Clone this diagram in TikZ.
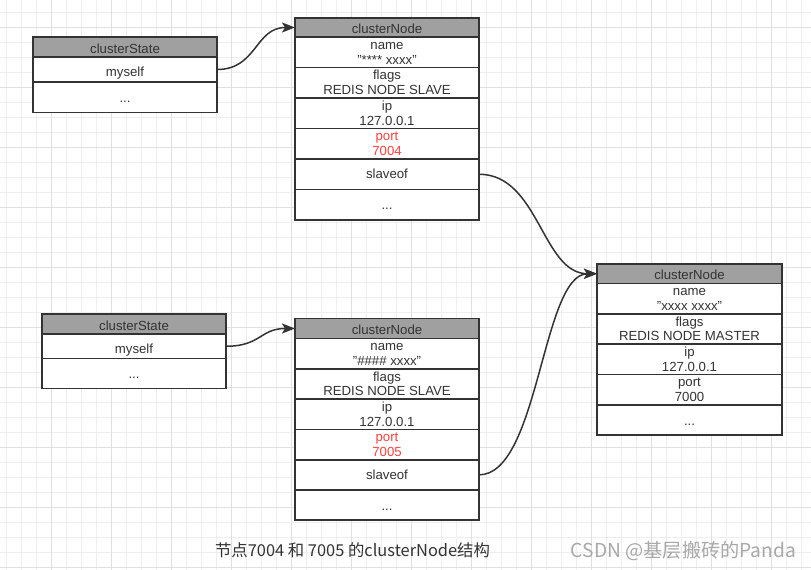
\documentclass[tikz,border=0pt]{standalone}
\usepackage{fontspec}
\setmainfont{Liberation Sans}
\newfontfamily\cjkfont{Noto Sans CJK SC}
\usetikzlibrary{arrows.meta}
\definecolor{txt}{HTML}{333333}
\definecolor{hdr}{HTML}{A0A0A0}
\definecolor{edgec}{HTML}{333333}
\definecolor{portred}{HTML}{FF4040}
\definecolor{gridminor}{HTML}{EEEEEE}
\definecolor{gridmajor}{HTML}{E0E0E0}
\definecolor{wm}{HTML}{A8A8A8}
% one-line label: cell name, baseline offset below centre, text, extra style
\newcommand\cellone[4]{\node[lbl,#4] (#1t) at ([yshift=-#2pt]#1.center) {#3};}
% two-line label: cell name, first line, second line, extra style
\newcommand\celltwo[4]{%
  \node[lbl,#4] (#1t1) at ([yshift=2.8pt]#1.center) {#2};
  \node[lbl,#4] (#1t2) at ([yshift=-12pt]#1.center) {#3};}
\begin{document}
\begin{tikzpicture}[x=1pt,y=-1pt,
  cell/.style={draw=edgec, line width=1.7pt, fill=white, anchor=north west,
    inner sep=0pt, outer sep=0pt},
  hdrcell/.style={cell, fill=hdr},
  lbl/.style={anchor=base, inner sep=0pt, text=txt, font=\fontsize{13.2}{15}\selectfont},
  conn/.style={draw=edgec, line width=1.5pt, -{Stealth[length=13pt,width=10pt,inset=3pt]}},
  red/.style={text=portred}
]
\fill[white] (0,0) rectangle (811,570);
\useasboundingbox (0,0) rectangle (811,570);
% grid
\foreach \x in {6.7,21.7,...,811} \draw[gridminor, line width=0.8pt] (\x,0) -- (\x,570);
\foreach \y in {12.3,27.3,...,570} \draw[gridminor, line width=0.8pt] (0,\y) -- (811,\y);
\foreach \x in {51.7,111.7,...,811} \draw[gridmajor, line width=0.8pt] (\x,0) -- (\x,570);
\foreach \y in {27.3,87.3,...,570} \draw[gridmajor, line width=0.8pt] (0,\y) -- (811,\y);

% ---- top clusterState
\node[hdrcell, minimum width=184pt, minimum height=20pt] (s1h) at (33,37) {};
\node[cell, minimum width=184pt, minimum height=25pt] (s1m) at (33,57) {};
\node[cell, minimum width=184pt, minimum height=30.5pt] (s1d) at (33,82) {};
\cellone{s1h}{6.2}{clusterState}{}
\cellone{s1m}{7.2}{myself}{}
\cellone{s1d}{5}{...}{}

% ---- lower clusterState
\node[hdrcell, minimum width=184pt, minimum height=20pt] (s2h) at (42,314) {};
\node[cell, minimum width=184pt, minimum height=24.5pt] (s2m) at (42,334) {};
\node[cell, minimum width=184pt, minimum height=30pt] (s2d) at (42,358.5) {};
\cellone{s2h}{6.2}{clusterState}{}
\cellone{s2m}{7.2}{myself}{}
\cellone{s2d}{5}{...}{}

% ---- top clusterNode (7004)
\node[hdrcell, minimum width=184pt, minimum height=19pt] (n1h) at (295,18) {};
\node[cell, minimum width=184pt, minimum height=30.5pt] (n1a) at (295,37) {};
\node[cell, minimum width=184pt, minimum height=30.5pt] (n1b) at (295,67.5) {};
\node[cell, minimum width=184pt, minimum height=30.5pt] (n1c) at (295,98) {};
\node[cell, minimum width=184pt, minimum height=30.5pt] (n1d) at (295,128.5) {};
\node[cell, minimum width=184pt, minimum height=30.5pt] (n1e) at (295,159) {};
\node[cell, minimum width=184pt, minimum height=30.5pt] (n1f) at (295,189.5) {};
\cellone{n1h}{6}{clusterNode}{}
\celltwo{n1a}{name}{"**** xxxx"}{}
\celltwo{n1b}{flags}{REDIS NODE SLAVE}{}
\celltwo{n1c}{ip}{127.0.0.1}{}
\celltwo{n1d}{port}{7004}{red}
\cellone{n1e}{4.6}{slaveof}{}
\cellone{n1f}{5}{...}{}

% ---- lower clusterNode (7005)
\node[hdrcell, minimum width=184pt, minimum height=20pt] (n2h) at (295,318.5) {};
\node[cell, minimum width=184pt, minimum height=30.3pt] (n2a) at (295,338.5) {};
\node[cell, minimum width=184pt, minimum height=30.3pt] (n2b) at (295,368.8) {};
\node[cell, minimum width=184pt, minimum height=30.3pt] (n2c) at (295,399.1) {};
\node[cell, minimum width=184pt, minimum height=30.3pt] (n2d) at (295,429.4) {};
\node[cell, minimum width=184pt, minimum height=30.3pt] (n2e) at (295,459.7) {};
\node[cell, minimum width=184pt, minimum height=30.3pt] (n2f) at (295,490) {};
\cellone{n2h}{6.2}{clusterNode}{}
\celltwo{n2a}{name}{"\#\#\#\# xxxx"}{}
\celltwo{n2b}{flags}{REDIS NODE SLAVE}{}
\celltwo{n2c}{ip}{127.0.0.1}{}
\celltwo{n2d}{port}{7005}{red}
\cellone{n2e}{4.6}{slaveof}{}
\cellone{n2f}{5}{...}{}

% ---- master clusterNode (7000)
\node[hdrcell, minimum width=185pt, minimum height=19.5pt] (mh) at (597,264) {};
\node[cell, minimum width=185pt, minimum height=30.3pt] (ma) at (597,283.5) {};
\node[cell, minimum width=185pt, minimum height=30.3pt] (mb) at (597,313.8) {};
\node[cell, minimum width=185pt, minimum height=30.3pt] (mc) at (597,344.1) {};
\node[cell, minimum width=185pt, minimum height=30.3pt] (md) at (597,374.4) {};
\node[cell, minimum width=185pt, minimum height=30.6pt] (me) at (597,404.7) {};
\cellone{mh}{6}{clusterNode}{}
\celltwo{ma}{name}{"xxxx xxxx"}{}
\celltwo{mb}{flags}{REDIS NODE MASTER}{}
\celltwo{mc}{ip}{127.0.0.1}{}
\celltwo{md}{port}{7000}{}
\cellone{me}{5}{...}{}

% ---- connectors
\draw[conn] (s1m.east) .. controls +(40,0) and +(-40,0) .. (n1h.west);
\draw[conn] (s2m.east) .. controls +(35,0) and +(-35,0) .. (n2h.west);
\draw[conn] (n1e.east) .. controls +(60,0) and +(-55,0) .. (mh.west);
\draw[conn] (n2e.east) .. controls +(60,0) and +(-55,0) .. (mh.west);

% ---- captions
\node[font=\cjkfont\fontsize{16.4}{19}\selectfont, text=txt] (cap) at (352.5,550) {节点7004 和 7005 的clusterNode结构};
\node[font=\cjkfont\fontsize{19.2}{22}\selectfont, text=wm] (wmk) at (683.5,551) {CSDN @基层搬砖的Panda};
\end{tikzpicture}
\end{document}
